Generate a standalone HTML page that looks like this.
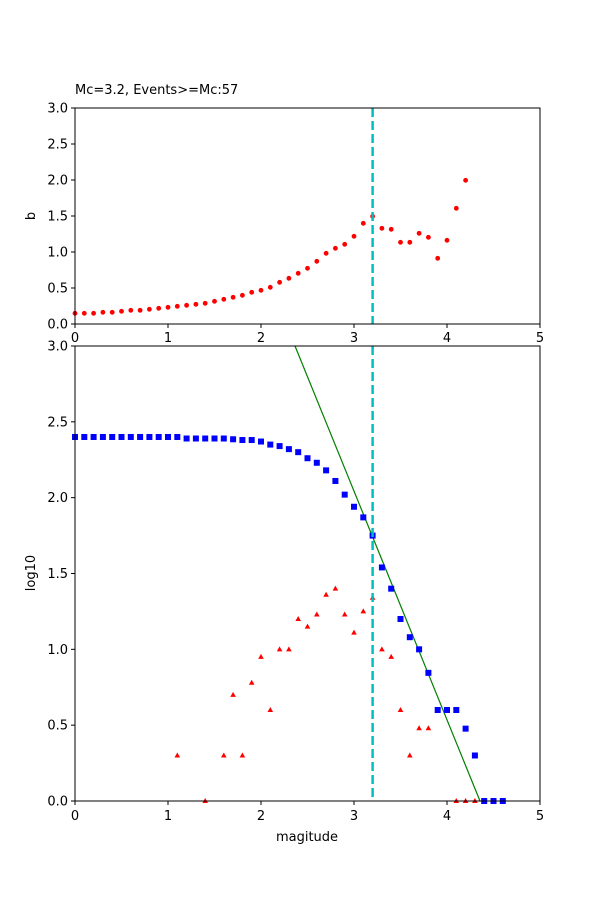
<!DOCTYPE html>
<html><head><meta charset="utf-8"><style>body{margin:0;background:#fff}svg{display:block}text{font-family:"DejaVu Sans","Liberation Sans",sans-serif;font-size:13px;fill:#000}</style></head>
<body>
<svg id="s" width="600" height="900" xmlns="http://www.w3.org/2000/svg">
<rect width="600" height="900" fill="#fff"/>
<text x="75" y="94">Mc=3.2, Events&gt;=Mc:57</text>
<g id="g"></g>
</svg>
<script>
var g=document.getElementById('g'),h='';
function X(v){return 75+v*93;}
// top axes
var tb=[460,460,460,457,457,454,451,451,448,445,442,439,436,433,430,424,418,412,406,397,391,382,367,355,340,325,304,280,265,253,229,190,169,205,208,247,247,220,232,295,241,145,61];
tb.forEach(function(z,i){h+='<circle cx="'+X(i*0.1)+'" cy="'+(160+z/3)+'" r="2.4" fill="red"/>';});
function TY(v){return 324-v*72;}
function BY(v){return 801-v*151.67;}
// green line
h+='<line x1="295" y1="346" x2="480" y2="801" stroke="green" stroke-width="1.2"/>';
var bl=[2.4,2.4,2.4,2.4,2.4,2.4,2.4,2.4,2.4,2.4,2.4,2.4,2.39,2.39,2.39,2.39,2.39,2.385,2.38,2.38,2.37,2.35,2.34,2.32,2.30,2.26,2.23,2.18,2.11,2.02,1.94,1.87,1.75,1.54,1.40,1.20,1.08,1.00,0.845,0.60,0.60,0.60,0.477,0.30,0,0,0];
bl.forEach(function(v,i){h+='<rect x="'+(X(i*0.1)-3)+'" y="'+(BY(v)-3)+'" width="6" height="6" fill="blue"/>';});
var tr=[[1.1,.3],[1.4,0],[1.6,.3],[1.7,.7],[1.8,.3],[1.9,.78],[2,.95],[2.1,.6],[2.2,1],[2.3,1],[2.4,1.2],[2.5,1.15],[2.6,1.23],[2.7,1.36],[2.8,1.4],[2.9,1.23],[3,1.11],[3.1,1.25],[3.2,1.34],[3.3,1],[3.4,.95],[3.5,.6],[3.6,.3],[3.7,.48],[3.8,.48],[4.1,0],[4.2,0],[4.3,0]];
tr.forEach(function(p){var x=X(p[0]),y=BY(p[1]);h+='<polygon points="'+x+','+(y-3)+' '+(x-2.8)+','+(y+2)+' '+(x+2.8)+','+(y+2)+'" fill="red"/>';});
// vlines
h+='<line x1="372.6" y1="108" x2="372.6" y2="324" stroke="#00bfbf" stroke-width="2.5" stroke-dasharray="9,4"/>';
h+='<line x1="372.6" y1="346" x2="372.6" y2="801" stroke="#00bfbf" stroke-width="2.5" stroke-dasharray="9,4"/>';
// frames
h+='<rect x="75" y="108" width="465" height="216" fill="none" stroke="#000" stroke-width="1"/>';
h+='<rect x="75" y="346" width="465" height="455" fill="none" stroke="#000" stroke-width="1"/>';
for(var i=0;i<=5;i++){var x=X(i);
h+='<line x1="'+x+'" y1="324" x2="'+x+'" y2="328" stroke="#000"/><text x="'+x+'" y="342" text-anchor="middle">'+i+'</text>';
h+='<line x1="'+x+'" y1="801" x2="'+x+'" y2="805" stroke="#000"/><text x="'+x+'" y="820" text-anchor="middle">'+i+'</text>';}
for(var k=0;k<=6;k++){var v=k*0.5,s=v.toFixed(1);
var y=TY(v);h+='<line x1="71" y1="'+y+'" x2="75" y2="'+y+'" stroke="#000"/><text x="68" y="'+(y+4.5)+'" text-anchor="end">'+s+'</text>';
y=BY(v);h+='<line x1="71" y1="'+y+'" x2="75" y2="'+y+'" stroke="#000"/><text x="68" y="'+(y+4.5)+'" text-anchor="end">'+s+'</text>';}
h+='<text x="35" y="216" text-anchor="middle" transform="rotate(-90 35 216)">b</text>';
h+='<text x="35" y="573" text-anchor="middle" transform="rotate(-90 35 573)">log10</text>';
h+='<text x="307" y="841" text-anchor="middle">magitude</text>';
g.innerHTML=h;
</script>
</body></html>
